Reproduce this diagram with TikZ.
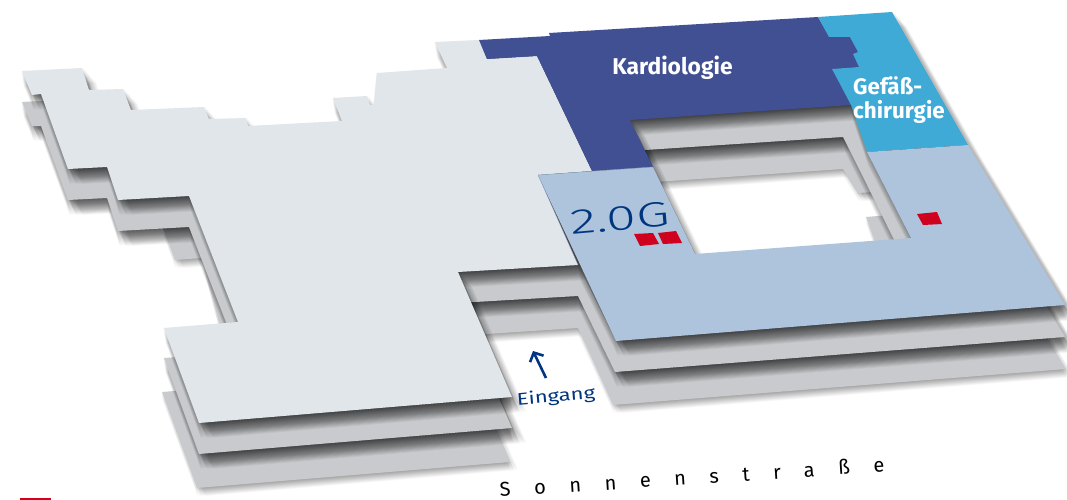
\documentclass[tikz,border=0pt]{standalone}
\usepackage{fontspec}
\setmainfont{Fira Sans}
\newfontfamily\lightfont{Fira Sans Light}
\newfontfamily\spacedfont[LetterSpace=118]{Fira Sans}
\usetikzlibrary{arrows.meta}
\definecolor{floortop}{HTML}{E1E6EA}
\definecolor{floorlow}{HTML}{C8CACD}
\definecolor{wingblue}{HTML}{ADC4DC}
\definecolor{kardio}{HTML}{414F93}
\definecolor{gefaess}{HTML}{40AAD6}
\definecolor{marker}{HTML}{D0001F}
\definecolor{textblue}{HTML}{00367F}
\definecolor{edgeblue}{HTML}{8FA5BD}
\tikzset{
  roomlabel/.style={text=white,font=\bfseries\fontsize{22.8}{26}\selectfont,inner sep=0pt},
  redmark/.style={fill=marker},
}
\newcommand{\softshadow}[3]{%
  \foreach \i in {1,...,#2}{\foreach \j in {-1,0,1}{\fill[black,opacity=#3,even odd rule,shift={({0.45*\i+\j*(1+0.3*\i)},{0.85*\i-0.5*abs(\j)})}] #1;}}}
\def\bottomfloor{(163,228) -- (360,215) -- (500,100) -- (892,76) -- (968,209) -- (1066,369) -- (613,405) -- (578,328) -- (456,336) -- (510,462) -- (197,488) -- (162,392) -- (236,386) -- (202,258) -- (175,260) -- cycle
  (655,182) -- (843,169) -- (858,193) -- (890,191) -- (890,215) -- (866,217) -- (875,242) -- (880,262) -- (700,275) -- cycle}
\def\midfloor{(22,102) -- (82,99) -- (89,121) -- (123,120) -- (131,141) -- (204,138) -- (209,150) -- (246,149) -- (248,157) -- (342,152) -- (333,129) -- (367,127) -- (370,136) -- (374,136) -- (377,104) -- (447,99) -- (435,73) -- (479,71) -- (549,64) -- (818,48) -- (892,43) -- (968,176) -- (1065,337) -- (615,372) -- (578,296) -- (458,303) -- (512,428) -- (199,454) -- (164,358) -- (238,353) -- (189,227) -- (118,231) -- (107,198) -- (68,200) -- (41,126) -- (32,126) -- cycle
  (630,151) -- (843,137) -- (866,183) -- (905,262) -- (690,280) -- (640,172) -- cycle}
\def\topfloor{(22,71) -- (82,68) -- (89,90) -- (123,89) -- (131,110) -- (204,107) -- (209,119) -- (246,118) -- (248,126) -- (342,121) -- (333,98) -- (367,96) -- (370,105) -- (374,105) -- (377,73) -- (447,68) -- (435,42) -- (479,40) -- (550,36) -- (549,33) -- (818,17) -- (892,12) -- (968,145) -- (1065,305) -- (616,341) -- (578,265) -- (458,272) -- (512,397) -- (199,423) -- (164,328) -- (238,322) -- (189,196) -- (118,200) -- (107,167) -- (68,169) -- (41,94) -- (32,95) -- cycle
  (630,120) -- (851,105) -- (867,152) -- (911,238) -- (695,254) -- (653,167) -- cycle}
\begin{document}
\begin{tikzpicture}[x=1pt,y=-1pt]
\useasboundingbox (0,0) rectangle (1067,500);
\fill[white] (0,0) rectangle (1067,500);
% lowest floor
\softshadow{\bottomfloor}{10}{0.012}
\fill[floorlow,even odd rule] \bottomfloor;
% middle floor
\softshadow{\midfloor}{18}{0.016}
\fill[floorlow,even odd rule] \midfloor;
% top floor
\softshadow{\topfloor}{18}{0.016}
\fill[floortop] (22,71) -- (82,68) -- (89,90) -- (123,89) -- (131,110) -- (204,107) -- (209,119) -- (246,118) -- (248,126) -- (342,121) -- (333,98) -- (367,96) -- (370,105) -- (374,105) -- (377,73) -- (447,68) -- (435,42) -- (479,40) -- (487,59) -- (537,56) -- (592,171) -- (538,175) -- (578,265) -- (458,272) -- (512,397) -- (199,423) -- (164,328) -- (238,322) -- (189,196) -- (118,200) -- (107,167) -- (68,169) -- (41,94) -- (32,95) -- cycle;
% departments
\fill[kardio] (479,40) -- (550,36) -- (549,33) -- (818,17) -- (829,37) -- (850,37) -- (858,52) -- (853,54) -- (859,67) -- (832,69) -- (851,105) -- (630,120) -- (653,167) -- (592,171) -- (537,56) -- (487,59) -- cycle;
\fill[gefaess] (818,17) -- (892,12) -- (968,145) -- (867,152) -- (851,105) -- (832,69) -- (859,67) -- (853,54) -- (858,52) -- (850,37) -- (829,37) -- cycle;
\fill[wingblue] (538,175) -- (653,167) -- (695,254) -- (911,238) -- (867,152) -- (968,145) -- (1065,305) -- (616,341) -- cycle;
\draw[edgeblue,line width=.4pt] (538,175) -- (653,167) (538,175) -- (578,265);
% markers
\fill[redmark] (634,234) -- (653,233) -- (659,244) -- (640,246) -- cycle;
\fill[redmark] (658,233) -- (676,231) -- (682,243) -- (663,244) -- cycle;
\fill[redmark] (917,214) -- (937,212) -- (942,224) -- (923,225) -- cycle;
\fill[marker] (20,498) rectangle (51,500);
% labels
\node[roomlabel] (kardiologie) at (672.5,67.5) {Kardiologie};
\node[roomlabel,align=left,anchor=north west,font=\bfseries\fontsize{22.4}{23.5}\selectfont] (gefaessl) at (853,76.5) {Gefäß-\\chirurgie};
\node[text=textblue,inner sep=0pt,rotate=5,xscale=1.55,transform shape,font=\lightfont\fontsize{35}{36}\selectfont] (og) at (620,218) {2.0G};
\node[text=textblue,inner sep=0pt,rotate=5,xscale=1.3,transform shape,font=\fontsize{17}{20}\selectfont] (eingang) at (556,397) {Eingang};
\coordinate (arrowfoot) at (546,378);
\coordinate (arrowtip) at (533,351);
\draw[textblue,line width=2.6pt,-{Straight Barb[length=7pt,width=15pt]}] (arrowfoot) -- (arrowtip);
\node[text=black,inner sep=0pt,rotate=3.7,font=\spacedfont\fontsize{20}{22}\selectfont] (street) at (692,477) {Sonnenstraße};
\end{tikzpicture}
\end{document}
